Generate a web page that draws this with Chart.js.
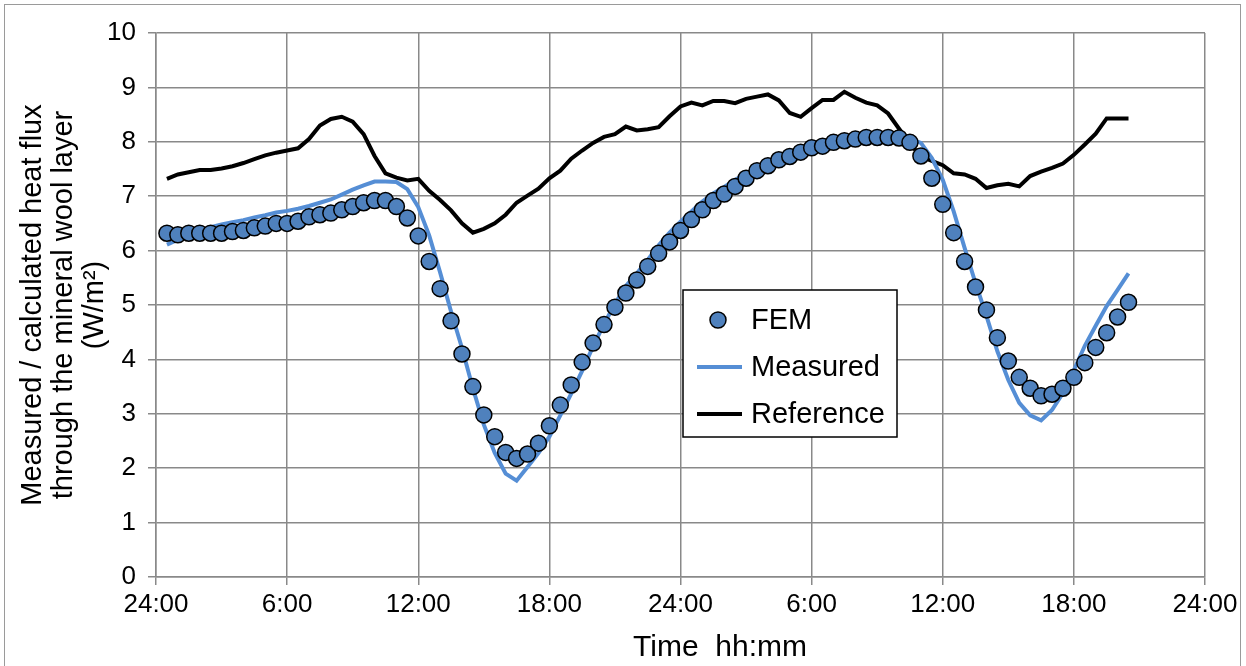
<!DOCTYPE html>
<html>
<head>
<meta charset="utf-8">
<script src="https://cdn.jsdelivr.net/npm/chart.js@4/dist/chart.umd.min.js"></script>
<style>
  html, body { margin: 0; padding: 0; background: #fff; }
  #wrap { position: relative; width: 1246px; height: 666px; }
</style>
</head>
<body>
<div id="wrap"><canvas id="fluxChart" width="1246" height="666"></canvas></div>
<script>
// time axis: hours from the first midnight, samples every half hour
const firstHour = 0.5;
const stepHour = 0.5;
const tickLabels = ['24:00', '6:00', '12:00', '18:00', '24:00', '6:00', '12:00', '18:00', '24:00'];

// W/m2
const femValues = [
  6.32, 6.29, 6.32, 6.32, 6.32, 6.32, 6.35, 6.37, 6.42, 6.45,
  6.50, 6.50, 6.54, 6.62, 6.66, 6.69, 6.75, 6.81, 6.88, 6.92,
  6.92, 6.81, 6.60, 6.27, 5.80, 5.30, 4.71, 4.10, 3.50, 2.98,
  2.58, 2.29, 2.18, 2.26, 2.46, 2.78, 3.16, 3.53, 3.95, 4.30,
  4.64, 4.96, 5.22, 5.46, 5.71, 5.95, 6.16, 6.37, 6.57, 6.75,
  6.92, 7.04, 7.18, 7.33, 7.47, 7.56, 7.67, 7.73, 7.81, 7.89,
  7.92, 7.99, 8.02, 8.05, 8.08, 8.08, 8.08, 8.07, 7.99, 7.74,
  7.33, 6.85, 6.33, 5.80, 5.33, 4.91, 4.40, 3.97, 3.67, 3.47,
  3.33, 3.36, 3.47, 3.67, 3.94, 4.22, 4.49, 4.78, 5.05
];

const measuredValues = [
  6.11, 6.20, 6.28, 6.36, 6.43, 6.48, 6.52, 6.56, 6.61, 6.65,
  6.70, 6.73, 6.77, 6.82, 6.88, 6.94, 7.03, 7.12, 7.20, 7.27,
  7.27, 7.26, 7.13, 6.80, 6.28, 5.60, 4.88, 4.21, 3.47, 2.80,
  2.28, 1.90, 1.77, 2.02, 2.28, 2.58, 2.97, 3.37, 3.79, 4.24,
  4.65, 5.02, 5.35, 5.58, 5.83, 6.10, 6.33, 6.53, 6.72, 6.90,
  7.05, 7.17, 7.30, 7.42, 7.52, 7.61, 7.70, 7.76, 7.83, 7.89,
  7.94, 7.98, 8.02, 8.05, 8.07, 8.08, 8.08, 8.07, 8.05, 7.98,
  7.70, 7.30, 6.72, 6.05, 5.40, 4.80, 4.15, 3.62, 3.20, 2.97,
  2.88, 3.07, 3.38, 3.80, 4.25, 4.62, 4.98, 5.28, 5.58
];

const referenceValues = [
  7.32, 7.40, 7.44, 7.48, 7.48, 7.51, 7.55, 7.61, 7.68, 7.75,
  7.80, 7.84, 7.88, 8.05, 8.30, 8.42, 8.46, 8.37, 8.14, 7.74,
  7.42, 7.34, 7.29, 7.32, 7.10, 6.93, 6.74, 6.50, 6.33, 6.40,
  6.50, 6.66, 6.88, 7.01, 7.14, 7.33, 7.47, 7.69, 7.84, 7.98,
  8.09, 8.14, 8.28, 8.21, 8.23, 8.27, 8.47, 8.65, 8.72, 8.67,
  8.75, 8.75, 8.71, 8.79, 8.83, 8.87, 8.76, 8.53, 8.46, 8.62,
  8.77, 8.77, 8.92, 8.81, 8.72, 8.67, 8.52, 8.24, 7.97, 7.73,
  7.65, 7.57, 7.42, 7.40, 7.32, 7.15, 7.20, 7.23, 7.18, 7.37,
  7.45, 7.52, 7.60, 7.76, 7.95, 8.15, 8.43, 8.43, 8.43
];

const toPoints = (values) => values.map((v, i) => ({ x: firstHour + i * stepHour, y: v }));

const gridColor = '#898989';
const fontFamily = '"Liberation Sans", Arial, sans-serif';

// white page with the thin grey frame Excel puts round the chart
const frame = {
  id: 'frame',
  beforeDraw(chart) {
    const ctx = chart.ctx;
    ctx.save();
    ctx.fillStyle = '#fff';
    ctx.fillRect(0, 0, chart.width, chart.height);
    ctx.strokeStyle = '#9a9a9a';
    ctx.lineWidth = 1;
    ctx.strokeRect(4.5, 4.5, 1236, 700);
    ctx.restore();
  }
};

// legend box sitting inside the plot, plus the x axis title
const boxLegend = {
  id: 'boxLegend',
  afterDraw(chart) {
    const ctx = chart.ctx;
    const ds = chart.data.datasets;
    const x = 683, y = 290, w = 214, h = 147;
    ctx.save();
    ctx.fillStyle = '#fff';
    ctx.fillRect(x, y, w, h);
    ctx.strokeStyle = '#000';
    ctx.lineWidth = 1.5;
    ctx.strokeRect(x, y, w, h);

    const rows = [320, 367, 414];
    ctx.font = '29px ' + fontFamily;
    ctx.textBaseline = 'middle';
    ctx.textAlign = 'left';
    ds.forEach((d, i) => {
      const ry = rows[i];
      if (d.showLine === false) {
        ctx.beginPath();
        ctx.arc(718, ry, d.pointRadius, 0, Math.PI * 2);
        ctx.fillStyle = d.pointBackgroundColor;
        ctx.fill();
        ctx.lineWidth = d.pointBorderWidth;
        ctx.strokeStyle = d.pointBorderColor;
        ctx.stroke();
      } else {
        ctx.beginPath();
        ctx.moveTo(697, ry);
        ctx.lineTo(742, ry);
        ctx.lineWidth = d.borderWidth;
        ctx.strokeStyle = d.borderColor;
        ctx.stroke();
      }
      ctx.fillStyle = '#000';
      ctx.fillText(d.label, 751, ry + 1);
    });

    ctx.font = '30px ' + fontFamily;
    ctx.textAlign = 'center';
    ctx.fillText('Time  hh:mm', 720, 648);
    ctx.restore();
  }
};

const ctx = document.getElementById('fluxChart').getContext('2d');
new Chart(ctx, {
  type: 'line',
  data: {
    datasets: [
      {
        label: 'FEM',
        data: toPoints(femValues),
        showLine: false,
        pointRadius: 8,
        pointBackgroundColor: '#4f81bd',
        pointBorderColor: '#000',
        pointBorderWidth: 1.5
      },
      {
        label: 'Measured',
        data: toPoints(measuredValues),
        borderColor: '#558ed5',
        borderWidth: 4,
        pointRadius: 0,
        tension: 0
      },
      {
        label: 'Reference',
        data: toPoints(referenceValues),
        borderColor: '#000',
        borderWidth: 4,
        pointRadius: 0,
        tension: 0
      }
    ]
  },
  options: {
    responsive: false,
    animation: false,
    devicePixelRatio: 1,
    layout: { padding: { left: 10, right: 41, top: 33, bottom: 0 } },
    plugins: {
      legend: { display: false },
      tooltip: { enabled: false }
    },
    scales: {
      x: {
        type: 'linear',
        min: 0,
        max: 48,
        afterFit: (scale) => { scale.height = 89; },
        afterBuildTicks: (scale) => {
          scale.ticks = tickLabels.map((_, i) => ({ value: i * 6 }));
        },
        ticks: {
          autoSkip: false,
          maxRotation: 0,
          padding: 4,
          color: '#000',
          font: { family: fontFamily, size: 26 },
          callback: (value, index) => tickLabels[index]
        },
        grid: { color: gridColor, lineWidth: 1.5, tickLength: 8, tickColor: gridColor },
        border: { color: gridColor, width: 1.5 }
      },
      y: {
        min: 0,
        max: 10,
        afterFit: (scale) => { scale.width = 146; },
        ticks: {
          stepSize: 1,
          padding: 12,
          color: '#000',
          font: { family: fontFamily, size: 26 }
        },
        grid: { color: gridColor, lineWidth: 1.5, tickLength: 8, tickColor: gridColor },
        border: { color: gridColor, width: 1.5 },
        title: {
          display: true,
          text: ['Measured / calculated heat flux', 'through the mineral wool layer', '(W/m²)'],
          color: '#000',
          font: { family: fontFamily, size: 29, lineHeight: 1.07 },
          padding: { top: 7, bottom: 0 }
        }
      }
    }
  },
  plugins: [frame, boxLegend]
});
</script>
</body>
</html>
